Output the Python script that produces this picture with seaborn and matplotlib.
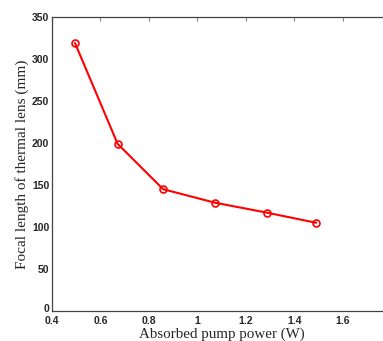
import matplotlib
matplotlib.use("Agg")
import matplotlib.pyplot as plt
import matplotlib.transforms as mtransforms
import seaborn as sns
import pandas as pd

power = [0.495, 0.671, 0.859, 1.072, 1.289, 1.491]
focal = [319, 199, 145, 129, 117, 105]
xticks = [0.4, 0.6, 0.8, 1.0, 1.2, 1.4, 1.6]
xticklabels = ["0.4", "0.6", "0.8", "1", "1.2", "1.4", "1.6"]
yticks = [0, 50, 100, 150, 200, 250, 300, 350]

sns.set_style("white")
df = pd.DataFrame({"power": power, "focal": focal})

fig = plt.figure(figsize=(3.83, 3.41), dpi=100)
ax = fig.add_axes([52/383, 30/341, 339/383, 294/341])
sns.lineplot(data=df, x="power", y="focal", ax=ax, color="#ff0000", lw=1.5,
             marker="o", markersize=5, markerfacecolor="none",
             markeredgecolor="#ff0000", markeredgewidth=1.2)
ax.set_xlim(0.4, 1.8)
ax.set_ylim(0, 350)
ax.set_xticks(xticks)
ax.set_xticklabels(xticklabels)
ax.set_yticks(yticks)
for lab in ax.get_xticklabels() + ax.get_yticklabels():
    lab.set_fontfamily("Liberation Sans")
    lab.set_fontweight("bold")
    lab.set_fontsize(7.5)
ax.tick_params(direction="in", length=3, width=0.8, color="#888888",
               top=True, right=True, pad=2)
ax.tick_params(axis="x", pad=3.5)
# nudge the "0" y tick label up slightly, as in the reference
ylab0 = ax.get_yticklabels()[0]
ylab0.set_transform(ylab0.get_transform() +
                    mtransforms.ScaledTranslation(0, 2/72, fig.dpi_scale_trans))
for s in ax.spines.values():
    s.set_color("#444444")
    s.set_linewidth(0.9)
ax.set_xlabel("Absorbed pump power (W)", fontfamily="Liberation Serif", fontsize=10.8, labelpad=1)
ax.set_ylabel("Focal length of thermal lens (mm)", fontfamily="Liberation Serif", fontsize=11, labelpad=2)
fig.savefig("out.png", dpi=100)
